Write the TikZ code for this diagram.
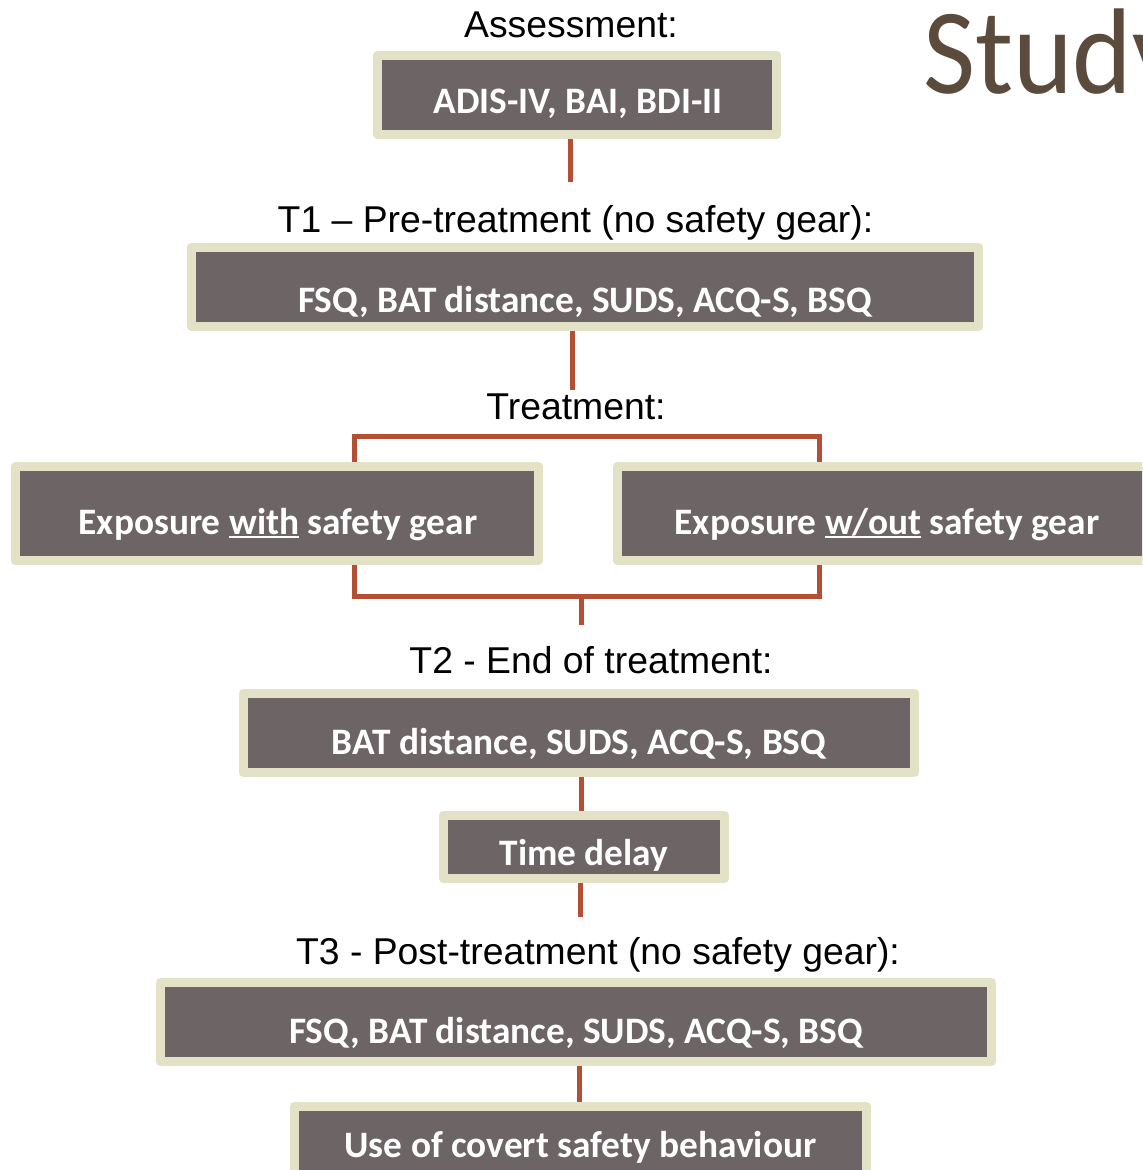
\documentclass[tikz,border=0pt]{standalone}
\usepackage{fontspec}
\setmainfont{Liberation Sans}
\newfontfamily\calfont{Carlito}
\newfontfamily\studyfont[FakeStretch=0.93]{Carlito}
\usetikzlibrary{calc}
\definecolor{boxc}{HTML}{6D6466}
\definecolor{framec}{HTML}{E4E2C6}
\definecolor{rust}{HTML}{B44F36}
\definecolor{studyc}{HTML}{5A4B3C}
\newlength\ulw
\newcommand\myul[1]{\settowidth\ulw{#1}\rlap{\rule[-3pt]{\ulw}{1.6pt}}#1}
\pgfdeclarelayer{back}
\pgfdeclarelayer{bg}
\pgfsetlayers{back,bg,main}
\begin{document}
\begin{tikzpicture}[x=0.75pt,y=-0.75pt,
  box/.style={draw=framec, fill=boxc, line width=6.75pt, line join=round, inner sep=0pt},
  boxtext/.style={anchor=base, text=white, font=\calfont\bfseries\fontsize{28}{30}\selectfont, inner sep=0pt},
  lbl/.style={anchor=base, font=\fontsize{28}{30}\selectfont, inner sep=0pt},
  conn/.style={draw=rust, line width=3.75pt}]
\useasboundingbox (0,0) rectangle (1142,1170);
\clip (0,0) rectangle (1142,1170);
\begin{pgfonlayer}{back}
\fill[white] (0,0) rectangle (1142,1170);
\end{pgfonlayer}

% title
\node[anchor=base west, inner sep=0pt, text=studyc, font=\studyfont\fontsize{91.5}{95}\selectfont] (study) at (923,94) {Study};

% labels
\node[lbl] (lassess) at (571,38) {Assessment:};
\node[lbl] (lt1) at (575.5,232) {T1 -- Pre-treatment (no safety gear):};
\node[lbl] (ltreat) at (576,419) {Treatment:};
\node[lbl] (lt2) at (591,673) {T2 - End of treatment:};
\node[lbl] (lt3) at (598,964) {T3 - Post-treatment (no safety gear):};

% boxes
\node[box, minimum width=399*0.75pt, minimum height=79*0.75pt] (adis) at (577,95) {};
\node[boxtext] (adist) at (578,114) {ADIS-IV, BAI, BDI-II};

\node[box, minimum width=787*0.75pt, minimum height=79*0.75pt] (t1) at (585,287) {};
\node[boxtext] (t1t) at (585,312) {FSQ, BAT distance, SUDS, ACQ-S, BSQ};

\node[box, minimum width=523*0.75pt, minimum height=94*0.75pt] (expl) at (277,513.5) {};
\node[boxtext] (explt) at (278,534) {Exposure \myul{with} safety gear};

\node[box, minimum width=539*0.75pt, minimum height=94*0.75pt] (expr) at (887,513.5) {};
\node[boxtext] (exprt) at (887,534) {Exposure \myul{w/out} safety gear};

\node[box, minimum width=671*0.75pt, minimum height=79*0.75pt] (t2) at (579,733) {};
\node[boxtext] (t2t) at (579,754) {BAT distance, SUDS, ACQ-S, BSQ};

\node[box, minimum width=281*0.75pt, minimum height=63*0.75pt] (time) at (584,847) {};
\node[boxtext] (timet) at (584,865) {Time delay};

\node[box, minimum width=831*0.75pt, minimum height=79*0.75pt] (t3) at (576,1022) {};
\node[boxtext] (t3t) at (576,1043) {FSQ, BAT distance, SUDS, ACQ-S, BSQ};

\node[box, minimum width=572*0.75pt, minimum height=79*0.75pt] (last) at (580.5,1146) {};
\node[boxtext] (lastt) at (580.5,1157) {Use of covert safety behaviour};

% connectors
\coordinate (c1) at (570,182);
\coordinate (c2) at (572,390);
\coordinate (bl) at (354,436);
\coordinate (br) at (819,436);
\coordinate (bbl) at (354,596);
\coordinate (bbr) at (819,596);
\coordinate (bm) at (581,596);
\coordinate (bme) at (581,625);
\coordinate (c4) at (581,800);
\coordinate (c5) at (580,917);
\coordinate (c6) at (579,1080);
\begin{pgfonlayer}{bg}
\draw[conn] (adis.south -| c1) -- (c1);
\draw[conn] (t1.south -| c2) -- (c2);
\draw[conn] (expl.north -| bl) -- (bl) -- (br) -- (expr.north -| br);
\draw[conn] (expl.south -| bbl) -- (bbl) -- (bbr) -- (expr.south -| bbr);
\draw[conn] (bm) -- (bme);
\draw[conn] (t2.south -| c4) -- (time.north -| c4);
\draw[conn] (time.south -| c5) -- (c5);
\draw[conn] (t3.south -| c6) -- (last.north -| c6);
\end{pgfonlayer}
\end{tikzpicture}
\end{document}
